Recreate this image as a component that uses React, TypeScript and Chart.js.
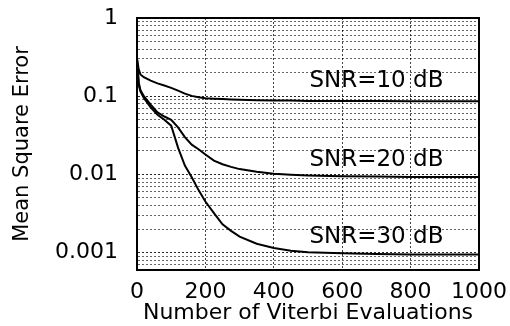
import React, { useEffect, useRef } from "react";
import { Chart, registerables } from "chart.js";

Chart.register(...registerables);

// ---- data ----
const evaluations = [0, 5, 10, 20, 40, 60, 80, 100, 120, 140, 160, 180, 200, 225, 250, 275, 300, 350, 400, 450, 500, 600, 700, 800, 900, 1000];
const mseSnr10 = [0.30, 0.22, 0.19, 0.175, 0.158, 0.146, 0.137, 0.128, 0.118, 0.108, 0.101, 0.097, 0.094, 0.093, 0.092, 0.091, 0.090, 0.089, 0.088, 0.088, 0.087, 0.087, 0.087, 0.086, 0.086, 0.086];
const mseSnr20 = [0.30, 0.15, 0.12, 0.10, 0.078, 0.062, 0.055, 0.050, 0.040, 0.030, 0.024, 0.021, 0.018, 0.015, 0.0135, 0.0125, 0.0117, 0.0108, 0.0102, 0.0099, 0.0097, 0.0095, 0.0094, 0.0093, 0.0093, 0.0093];
const mseSnr30 = [0.30, 0.14, 0.115, 0.095, 0.072, 0.058, 0.050, 0.042, 0.022, 0.013, 0.0092, 0.0063, 0.0045, 0.0032, 0.0023, 0.0019, 0.0016, 0.0013, 0.00115, 0.00106, 0.00101, 0.00098, 0.00096, 0.00095, 0.00095, 0.00095];
const seriesNames = ["SNR=10 dB", "SNR=20 dB", "SNR=30 dB"];
const seriesLabelX = 700;
const seriesLabelY = [0.158, 0.0153, 0.00158];

const xTickValues = [0, 200, 400, 600, 800, 1000];
const yDecades = [0.001, 0.01, 0.1, 1];
const yTickLabels = ["0.001", "0.01", "0.1", "1"];
const yMinorMultipliers = [1, 2, 3, 4, 5, 6, 7, 8, 9];
const yMin = 0.0006;
const yMax = 1;

const xTitle = "Number of Viterbi Evaluations";
const yTitle = "Mean Square Error";

const FONT = '"DejaVu Sans", sans-serif';

function decadeIndex(v: number): number {
  for (let i = 0; i < yDecades.length; i++) {
    if (Math.abs(v - yDecades[i]) / yDecades[i] < 1e-6) return i;
  }
  return -1;
}

const seriesLabelPlugin = {
  id: "seriesLabels",
  afterDatasetsDraw(chart: any) {
    const { ctx, scales } = chart;
    ctx.save();
    ctx.font = `23px ${FONT}`;
    ctx.fillStyle = "#000";
    ctx.textAlign = "center";
    ctx.textBaseline = "middle";
    seriesNames.forEach((name, i) => {
      ctx.fillText(name, scales.x.getPixelForValue(seriesLabelX), scales.y.getPixelForValue(seriesLabelY[i]));
    });
    ctx.restore();
  },
};

const framePlugin = {
  id: "frame",
  afterDraw(chart: any) {
    const { ctx, chartArea } = chart;
    ctx.save();
    ctx.strokeStyle = "#000";
    ctx.lineWidth = 2;
    ctx.setLineDash([]);
    ctx.strokeRect(chartArea.left, chartArea.top, chartArea.right - chartArea.left, chartArea.bottom - chartArea.top);
    ctx.restore();
  },
};

export default function App() {
  const canvasRef = useRef<HTMLCanvasElement | null>(null);

  useEffect(() => {
    if (!canvasRef.current) return;
    Chart.defaults.font.family = FONT;
    Chart.defaults.color = "#000";

    const mk = (arr: number[]) => evaluations.map((x, i) => ({ x, y: arr[i] }));
    const lineStyle = {
      borderColor: "#000",
      borderWidth: 2,
      pointRadius: 0,
      fill: false,
      tension: 0,
    };

    const chart = new Chart(canvasRef.current, {
      type: "line",
      data: {
        datasets: [
          { label: seriesNames[0], data: mk(mseSnr10), ...lineStyle },
          { label: seriesNames[1], data: mk(mseSnr20), ...lineStyle },
          { label: seriesNames[2], data: mk(mseSnr30), ...lineStyle },
        ],
      },
      options: {
        animation: false,
        responsive: false,
        devicePixelRatio: 1,
        layout: { padding: { top: 18, right: 31, left: 0, bottom: 0 } },
        plugins: { legend: { display: false }, tooltip: { enabled: false } },
        scales: {
          x: {
            type: "linear",
            min: 0,
            max: 1000,
            afterFit(scale: any) {
              scale.height = 56;
              scale.paddingLeft = 0;
              scale.paddingRight = 0;
            },
            afterBuildTicks(scale: any) {
              scale.ticks = xTickValues.map((v) => ({ value: v }));
            },
            ticks: {
              autoSkip: false,
              maxRotation: 0,
              padding: 11,
              font: { size: 22, lineHeight: 1 },
              color: "#000",
              callback: (v: any) => String(v),
            },
            grid: {
              drawTicks: false,
              color: "rgba(0,0,0,0.75)",
              lineWidth: 1,
            },
            border: { display: true, color: "#000", width: 2, dash: [2, 2] },
            title: {
              display: true,
              text: xTitle,
              color: "#000",
              font: { size: 22, lineHeight: 1 },
              padding: { top: 0, bottom: 2 },
            },
          },
          y: {
            type: "logarithmic",
            min: yMin,
            max: yMax,
            afterFit(scale: any) {
              scale.width = 137;
              scale.paddingTop = 0;
              scale.paddingBottom = 0;
            },
            afterBuildTicks(scale: any) {
              const ticks: any[] = [];
              [0.0001, ...yDecades].forEach((d) => {
                yMinorMultipliers.forEach((m) => {
                  const v = Math.round(d * m * 1e6) / 1e6;
                  if (v >= yMin - 1e-9 && v <= yMax + 1e-9) ticks.push({ value: v });
                });
              });
              scale.ticks = ticks;
            },
            ticks: {
              autoSkip: false,
              padding: 19,
              font: { size: 22, lineHeight: 1 },
              color: "#000",
              callback: (v: any) => {
                const i = decadeIndex(Number(v));
                return i >= 0 ? yTickLabels[i] : "";
              },
            },
            grid: {
              drawTicks: false,
              lineWidth: 1,
              color: (ctx: any) => {
                const v = ctx.tick ? ctx.tick.value : 0;
                return decadeIndex(v) >= 0 ? "rgba(0,0,0,0.85)" : "rgba(0,0,0,0.6)";
              },
            },
            border: { display: true, color: "#000", width: 2, dash: [2, 2] },
            title: {
              display: true,
              text: yTitle,
              color: "#000",
              font: { size: 21 },
              padding: { top: 10, bottom: 0 },
            },
          },
        },
      } as any,
      plugins: [seriesLabelPlugin, framePlugin],
    });

    return () => chart.destroy();
  }, []);

  return (
    <div style={{ position: "fixed", left: 0, top: 0, width: 510, height: 326, background: "#fff" }}>
      <canvas ref={canvasRef} width={510} height={326} style={{ display: "block" }} />
    </div>
  );
}
